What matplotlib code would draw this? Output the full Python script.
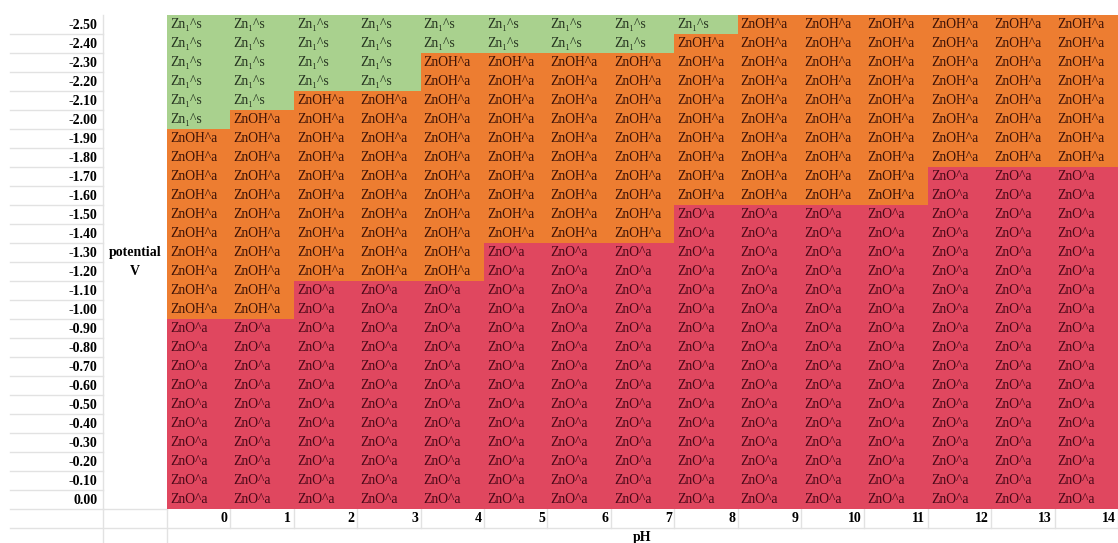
import numpy as np
import matplotlib
matplotlib.use('Agg')
import matplotlib.pyplot as plt
from matplotlib.colors import ListedColormap

plt.rcParams['font.family'] = ['Liberation Serif', 'DejaVu Serif']

# pH columns and potential rows (V)
ph = [0, 1, 2, 3, 4, 5, 6, 7, 8, 9, 10, 11, 12, 13, 14]
potentials = [-2.50, -2.40, -2.30, -2.20, -2.10, -2.00, -1.90, -1.80, -1.70,
              -1.60, -1.50, -1.40, -1.30, -1.20, -1.10, -1.00, -0.90, -0.80,
              -0.70, -0.60, -0.50, -0.40, -0.30, -0.20, -0.10, 0.00]

# species boundaries read off the table, per pH column
# Zn1^s for potentials <= zn_upper, ZnO^a for potentials >= zno_lower
zn_upper = [-2.00, -2.10, -2.20, -2.20, -2.40, -2.40, -2.40, -2.40, -2.50,
            -9, -9, -9, -9, -9, -9]
zno_lower = [-0.90, -0.90, -1.10, -1.10, -1.10, -1.30, -1.30, -1.30, -1.50,
             -1.50, -1.50, -1.50, -1.70, -1.70, -1.70]

species = ['Zn\u2081^s', 'ZnOH^a', 'ZnO^a']
fills = ['#a9d18e', '#ed7d31', '#e0475f']
text_cols = ['#253320', '#3d1206', '#4a0818']

codes = np.ones((len(potentials), len(ph)), dtype=int)
for c in range(len(ph)):
    for r, v in enumerate(potentials):
        if v <= zn_upper[c] + 1e-9:
            codes[r, c] = 0
        elif v >= zno_lower[c] - 1e-9:
            codes[r, c] = 2

W, H = 1118, 543
fig = plt.figure(figsize=(W / 100, H / 100), dpi=100)

# spreadsheet grid lines outside the coloured block (pixel coordinates)
bg = fig.add_axes([0, 0, 1, 1], zorder=0)
bg.set_xlim(0, W)
bg.set_ylim(H, 0)
bg.axis('off')
gx0, gx1, gy0, rh = 167, 1118, 14.5, 19
cw = (gx1 - gx0) / len(ph)
gy1 = gy0 + rh * len(potentials)
lc = '#e2e2e2'
for k in range(1, len(potentials) + 1):
    bg.plot([10, 103], [gy0 + k * rh] * 2, color=lc, lw=1)
bg.plot([103, gx0], [gy1, gy1], color=lc, lw=1)
bg.plot([10, W], [gy1 + rh, gy1 + rh], color=lc, lw=1)
bg.plot([103, 103], [gy0, H], color=lc, lw=1)
bg.plot([gx0, gx0], [gy1, H], color=lc, lw=1)
for j in range(1, len(ph) + 1):
    bg.plot([gx0 + j * cw] * 2, [gy1, gy1 + rh], color=lc, lw=1)

ax = fig.add_axes([gx0 / W, (H - gy1) / H, (gx1 - gx0) / W, (gy1 - gy0) / H], zorder=1)
ax.pcolormesh(np.arange(len(ph) + 1) - 0.5, np.arange(len(potentials) + 1) - 0.5,
              codes, cmap=ListedColormap(fills), vmin=-0.5, vmax=2.5)
ax.set_xlim(-0.5, len(ph) - 0.5)
ax.set_ylim(len(potentials) - 0.5, -0.5)

for r in range(len(potentials)):
    for c in range(len(ph)):
        k = codes[r, c]
        ax.text(c - 0.45, r + 0.05, species[k], ha='left', va='center',
                fontsize=9.8, color=text_cols[k])

ax.set_yticks(range(len(potentials)))
ax.set_yticklabels([f'{v:.2f}' for v in potentials], fontsize=10, fontweight='bold')
ax.tick_params(axis='y', length=0, pad=50)
ax.set_xticks([])
for s in ax.spines.values():
    s.set_visible(False)

for c, p in enumerate(ph):
    ax.text(c + 0.46, len(potentials) + 0.05, str(p), ha='right', va='center',
            fontsize=10, fontweight='bold', clip_on=False)

ax.text(-1.0, 12.05, 'potential', ha='center', va='center', fontsize=10,
        fontweight='bold', clip_on=False)
ax.text(-1.0, 13.05, 'V', ha='center', va='center', fontsize=10,
        fontweight='bold', clip_on=False)
ax.text(7, 27.0, 'pH', ha='center', va='center', fontsize=10,
        fontweight='bold', clip_on=False)

fig.savefig('out.png', dpi=100, facecolor='white')
